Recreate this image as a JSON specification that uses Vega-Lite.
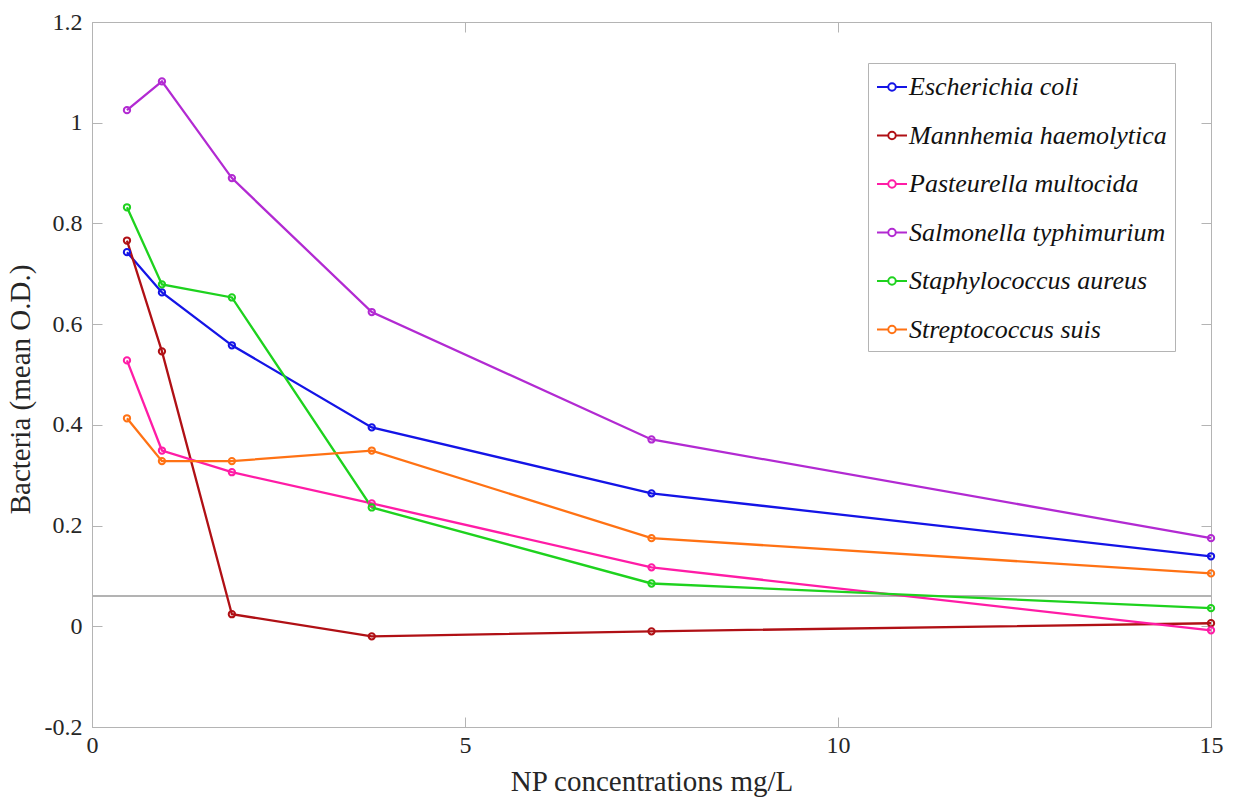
{
  "$schema": "https://vega.github.io/schema/vega-lite/v6.json",
  "width": 1119,
  "height": 705,
  "autosize": {"type": "none"},
  "padding": {"left": 92, "top": 22, "right": 23, "bottom": 71},
  "background": "white",
  "config": {
    "font": "Liberation Serif",
    "view": {"stroke": "#b4b4b4", "strokeWidth": 1},
    "axis": {
      "grid": false,
      "domainColor": "#b4b4b4",
      "tickColor": "#b4b4b4",
      "tickSize": -10,
      "labelFlush": false,
      "labelFont": "Liberation Serif",
      "labelFontSize": 24,
      "labelColor": "#262626",
      "titleFont": "Liberation Serif",
      "titleFontSize": 29,
      "titleFontWeight": "normal",
      "titleColor": "#262626"
    },
    "legend": {
      "orient": "none",
      "legendX": 776,
      "legendY": 41,
      "strokeColor": "#b4b4b4",
      "fillColor": "white",
      "padding": 8,
      "labelFont": "Liberation Serif",
      "labelFontStyle": "italic",
      "labelFontSize": 26,
      "labelColor": "#111111",
      "labelLimit": 400,
      "labelOffset": 1,
      "rowPadding": 19.5,
      "symbolType": "M-1,0L-0.25,0M0.25,0L1,0M-0.25,0A0.25,0.25,0,1,1,0.25,0A0.25,0.25,0,1,1,-0.25,0",
      "symbolSize": 900,
      "symbolStrokeWidth": 2,
      "title": null
    }
  },
  "data": {
    "values": [
      {"species": "Escherichia coli", "conc": 0.46875, "od": 0.743},
      {"species": "Escherichia coli", "conc": 0.9375, "od": 0.663},
      {"species": "Escherichia coli", "conc": 1.875, "od": 0.558},
      {"species": "Escherichia coli", "conc": 3.75, "od": 0.395},
      {"species": "Escherichia coli", "conc": 7.5, "od": 0.264},
      {"species": "Escherichia coli", "conc": 15, "od": 0.139},
      {"species": "Mannhemia haemolytica", "conc": 0.46875, "od": 0.766},
      {"species": "Mannhemia haemolytica", "conc": 0.9375, "od": 0.546},
      {"species": "Mannhemia haemolytica", "conc": 1.875, "od": 0.024},
      {"species": "Mannhemia haemolytica", "conc": 3.75, "od": -0.020},
      {"species": "Mannhemia haemolytica", "conc": 7.5, "od": -0.010},
      {"species": "Mannhemia haemolytica", "conc": 15, "od": 0.006},
      {"species": "Pasteurella multocida", "conc": 0.46875, "od": 0.528},
      {"species": "Pasteurella multocida", "conc": 0.9375, "od": 0.349},
      {"species": "Pasteurella multocida", "conc": 1.875, "od": 0.306},
      {"species": "Pasteurella multocida", "conc": 3.75, "od": 0.244},
      {"species": "Pasteurella multocida", "conc": 7.5, "od": 0.117},
      {"species": "Pasteurella multocida", "conc": 15, "od": -0.008},
      {"species": "Salmonella typhimurium", "conc": 0.46875, "od": 1.025},
      {"species": "Salmonella typhimurium", "conc": 0.9375, "od": 1.082},
      {"species": "Salmonella typhimurium", "conc": 1.875, "od": 0.890},
      {"species": "Salmonella typhimurium", "conc": 3.75, "od": 0.624},
      {"species": "Salmonella typhimurium", "conc": 7.5, "od": 0.371},
      {"species": "Salmonella typhimurium", "conc": 15, "od": 0.175},
      {"species": "Staphylococcus aureus", "conc": 0.46875, "od": 0.832},
      {"species": "Staphylococcus aureus", "conc": 0.9375, "od": 0.679},
      {"species": "Staphylococcus aureus", "conc": 1.875, "od": 0.653},
      {"species": "Staphylococcus aureus", "conc": 3.75, "od": 0.236},
      {"species": "Staphylococcus aureus", "conc": 7.5, "od": 0.085},
      {"species": "Staphylococcus aureus", "conc": 15, "od": 0.036},
      {"species": "Streptococcus suis", "conc": 0.46875, "od": 0.413},
      {"species": "Streptococcus suis", "conc": 0.9375, "od": 0.328},
      {"species": "Streptococcus suis", "conc": 1.875, "od": 0.328},
      {"species": "Streptococcus suis", "conc": 3.75, "od": 0.349},
      {"species": "Streptococcus suis", "conc": 7.5, "od": 0.175},
      {"species": "Streptococcus suis", "conc": 15, "od": 0.105}
    ]
  },
  "resolve": {"axis": {"x": "independent", "y": "independent"}},
  "layer": [
    {
      "mark": {"type": "rule", "color": "#b4b4b4", "strokeWidth": 1},
      "encoding": {"y": {"datum": 0.06, "type": "quantitative", "scale": {"domain": [-0.2, 1.2], "nice": false}, "axis": null}}
    },
    {
      "mark": {"type": "point", "opacity": 0},
      "encoding": {
        "x": {"field": "conc", "type": "quantitative", "scale": {"domain": [0, 15], "nice": false},
              "axis": {"orient": "top", "labels": false, "title": null, "values": [0, 5, 10, 15], "domain": false}},
        "y": {"field": "od", "type": "quantitative", "scale": {"domain": [-0.2, 1.2], "nice": false},
              "axis": {"orient": "right", "labels": false, "title": null, "values": [-0.2, 0, 0.2, 0.4, 0.6, 0.8, 1, 1.2], "domain": false}}
      }
    },
    {
      "mark": {"type": "line", "strokeWidth": 2.3, "point": {"filled": false, "size": 40, "strokeWidth": 2}},
      "encoding": {
        "x": {"field": "conc", "type": "quantitative", "scale": {"domain": [0, 15], "nice": false},
              "axis": {"orient": "bottom", "title": "NP concentrations mg/L", "values": [0, 5, 10, 15], "labelPadding": 16, "titlePadding": 10}},
        "y": {"field": "od", "type": "quantitative", "scale": {"domain": [-0.2, 1.2], "nice": false},
              "axis": {"orient": "left", "title": "Bacteria (mean O.D.)", "values": [-0.2, 0, 0.2, 0.4, 0.6, 0.8, 1, 1.2],
                       "labelExpr": "replace(format(datum.value, '~g'), '\u2212', '-')", "labelPadding": 20, "titlePadding": 9, "titleY": 367}},
        "color": {"field": "species", "type": "nominal",
                  "scale": {"domain": ["Escherichia coli", "Mannhemia haemolytica", "Pasteurella multocida", "Salmonella typhimurium", "Staphylococcus aureus", "Streptococcus suis"],
                            "range": ["#1414e6", "#b01015", "#ff1ca6", "#b22ad2", "#1ed21e", "#ff7214"]}}
      }
    }
  ]
}
